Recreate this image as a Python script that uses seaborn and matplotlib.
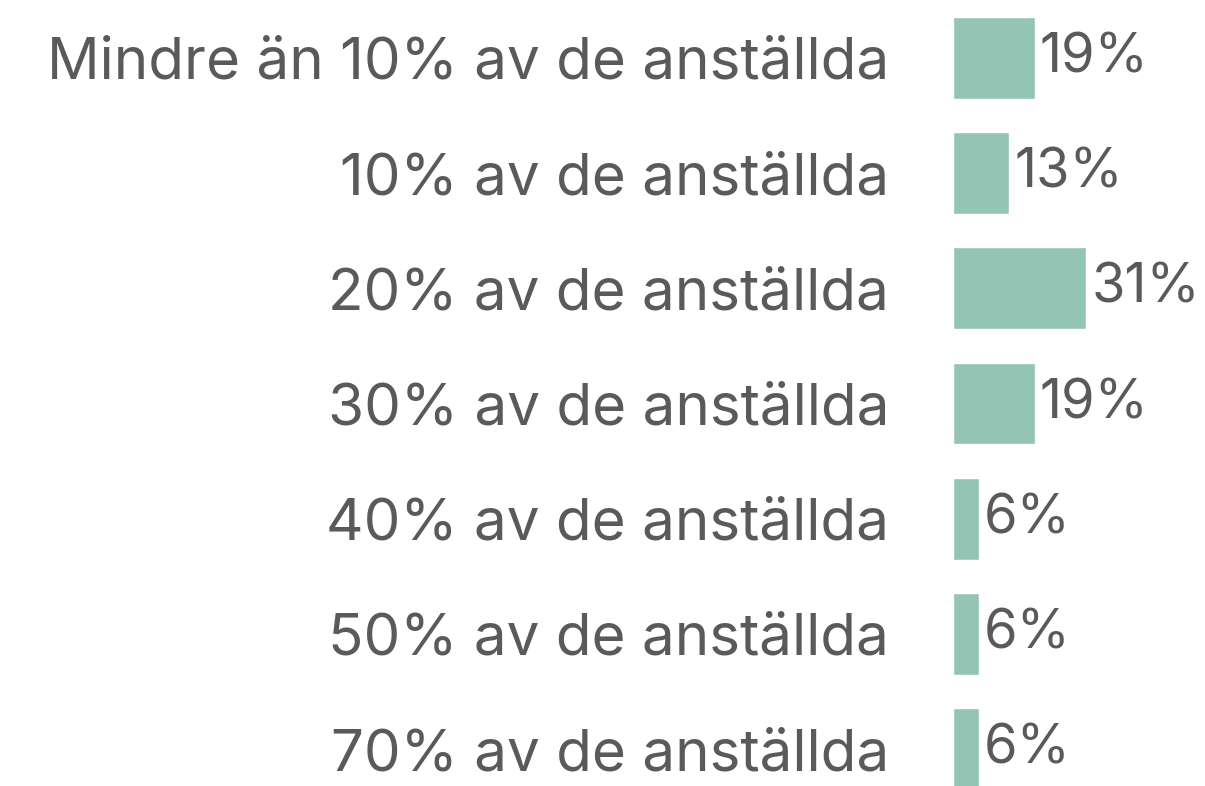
import matplotlib
matplotlib.use("Agg")
import matplotlib.pyplot as plt
import seaborn as sns
import pandas as pd

# Data
categories = ['Mindre än 10% av de anställda', '10% av de anställda', '20% av de anställda',
              '30% av de anställda', '40% av de anställda', '50% av de anställda',
              '70% av de anställda']
shares = [19, 13, 31, 19, 6, 6, 6]

df = pd.DataFrame({'kategori': categories, 'andel': shares})

sns.set_style('white')
plt.rcParams['font.family'] = ['Inter', 'DejaVu Sans']

text_color = '#5a5a5a'
bar_color = '#94c4b3'

fig = plt.figure(figsize=(12.05, 7.86), dpi=100)
ax = fig.add_axes([953 / 1205, 0, 252 / 1205, 1])

sns.barplot(data=df, x='andel', y='kategori', color=bar_color, saturation=1,
            width=0.71, ax=ax)

ax.set_xlim(0, 252 / 4.3)
ax.set_ylim(6.32, -0.503)

for i, v in enumerate(shares):
    ax.text(v + 1.2, i, f'{v}%', va='center', ha='left', fontsize=39, color=text_color)

ax.set_xticks([])
ax.tick_params(axis='y', length=0, pad=46, labelsize=42, labelcolor=text_color)
ax.set_xlabel('')
ax.set_ylabel('')
sns.despine(ax=ax, left=True, bottom=True)

fig.savefig('out.png', dpi=100)
